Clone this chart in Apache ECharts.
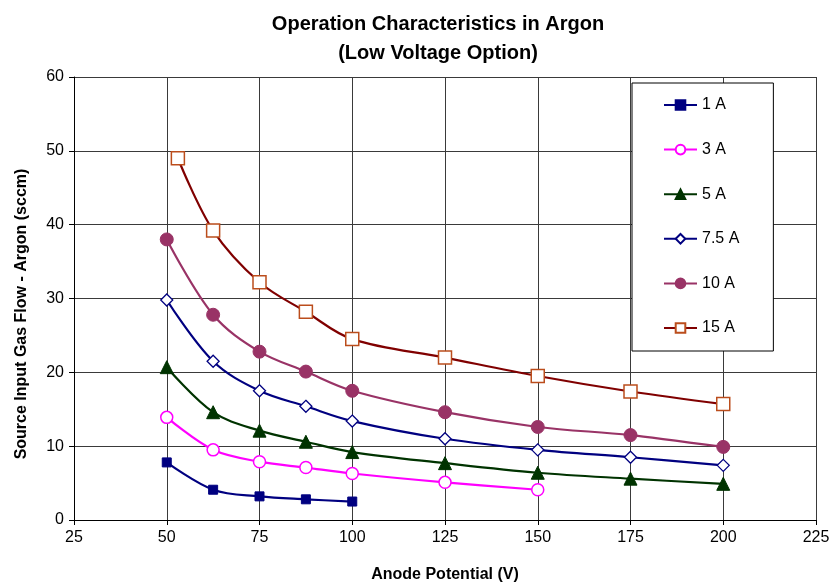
<!DOCTYPE html>
<html>
<head>
<meta charset="utf-8">
<script src="https://cdn.jsdelivr.net/npm/echarts@6/dist/echarts.min.js"></script>
<style>
  html, body { margin: 0; padding: 0; background: #fff; }
  #chart { width: 838px; height: 588px; }
</style>
</head>
<body>
<div id="chart"></div>
<script>
// Anode potential (V) for each current setting
const voltsLow = [50, 62.5, 75, 87.5, 100];
const volts3A = [50, 62.5, 75, 87.5, 100, 125, 150];
const voltsFull = [50, 62.5, 75, 87.5, 100, 125, 150, 175, 200];
const volts15A = [53, 62.5, 75, 87.5, 100, 125, 150, 175, 200];

// Source input gas flow, Argon (sccm)
const flow1A = [7.8, 4.1, 3.2, 2.8, 2.5];
const flow3A = [13.9, 9.5, 7.9, 7.1, 6.3, 5.1, 4.1];
const flow5A = [20.7, 14.6, 12.1, 10.6, 9.2, 7.7, 6.4, 5.6, 4.9];
const flow7p5A = [29.8, 21.5, 17.5, 15.4, 13.4, 11.0, 9.5, 8.5, 7.4];
const flow10A = [38.0, 27.8, 22.8, 20.1, 17.5, 14.6, 12.6, 11.5, 9.9];
const flow15A = [49.0, 39.2, 32.2, 28.2, 24.5, 22.0, 19.5, 17.4, 15.7];

const seriesNames = ['1 A', '3 A', '5 A', '7.5 A', '10 A', '15 A'];
const xTicks = [25, 50, 75, 100, 125, 150, 175, 200, 225];
const yTicks = [0, 10, 20, 30, 40, 50, 60];

const pair = (xs, ys) => xs.map((x, i) => [x, ys[i]]);

const FONT = '"Liberation Sans", Arial, sans-serif';

function curve(name, xs, ys, lineColor, symbol, size, fill, border, bw) {
  return {
    name: name,
    type: 'line',
    data: pair(xs, ys),
    smooth: 0.35,
    symbol: symbol,
    symbolSize: size,
    showAllSymbol: true,
    lineStyle: { color: lineColor, width: 2.2 },
    itemStyle: { color: fill, borderColor: border, borderWidth: bw, opacity: 1 },
    z: 3
  };
}

const chart = echarts.init(document.getElementById('chart'), null, { renderer: 'canvas' });

chart.setOption({
  animation: false,
  backgroundColor: '#fff',
  textStyle: { fontFamily: FONT },
  title: {
    text: 'Operation Characteristics in Argon\n(Low Voltage Option)',
    left: 433,
    top: 5,
    textAlign: 'center',
    textStyle: { fontFamily: FONT, fontSize: 20, fontWeight: 'bold', color: '#000', lineHeight: 29 }
  },
  grid: { left: 74, right: 22, top: 77, bottom: 65, containLabel: false },
  legend: {
    orient: 'vertical',
    left: 632,
    top: 83,
    itemWidth: 33,
    itemHeight: 12,
    itemGap: 28.6,
    padding: [14, 34, 15, 31],
    backgroundColor: '#fff',
    borderColor: '#000',
    borderWidth: 1,
    data: seriesNames,
    textStyle: { fontFamily: FONT, fontSize: 16, color: '#000' }
  },
  xAxis: {
    type: 'value',
    min: 25, max: 225, interval: 25,
    name: 'Anode Potential (V)',
    nameLocation: 'middle',
    nameGap: 47,
    nameTextStyle: { fontFamily: FONT, fontSize: 16, fontWeight: 'bold', color: '#000' },
    axisLine: { show: true, onZero: false, lineStyle: { color: '#000', width: 1 } },
    axisTick: { show: true, inside: false, length: 5, lineStyle: { color: '#000' } },
    axisLabel: { fontFamily: FONT, fontSize: 16, color: '#000', margin: 10,
      formatter: v => xTicks.includes(v) ? String(v) : '' },
    splitLine: { show: true, lineStyle: { color: '#3a3a3a', width: 1 } }
  },
  yAxis: {
    type: 'value',
    min: 0, max: 60, interval: 10,
    axisLine: { show: true, lineStyle: { color: '#000', width: 1 } },
    axisTick: { show: true, inside: false, length: 5, lineStyle: { color: '#000' } },
    axisLabel: { fontFamily: FONT, fontSize: 16, color: '#000', margin: 10,
      formatter: v => yTicks.includes(v) ? String(v) : '' },
    splitLine: { show: true, lineStyle: { color: '#3a3a3a', width: 1 } }
  },
  graphic: [{
    type: 'text',
    x: 22, y: 314,
    rotation: Math.PI / 2,
    style: {
      text: 'Source Input Gas Flow - Argon (sccm)',
      font: 'bold 16px ' + FONT,
      fill: '#000',
      align: 'center',
      verticalAlign: 'middle'
    }
  }],
  series: [
    curve('1 A', voltsLow, flow1A, '#000080', 'rect', 9, '#000080', '#000080', 1),
    curve('3 A', volts3A, flow3A, '#ff00ff', 'circle', 12, '#ffffff', '#ff00ff', 1.5),
    curve('5 A', voltsFull, flow5A, '#003300', 'triangle', 13, '#003300', '#003300', 1),
    curve('7.5 A', voltsFull, flow7p5A, '#000080', 'diamond', 12, '#ffffff', '#000080', 1.3),
    curve('10 A', voltsFull, flow10A, '#993366', 'circle', 13, '#993366', '#993366', 1),
    curve('15 A', volts15A, flow15A, '#800000', 'rect', 13, '#ffffff', '#bb4d1c', 1.5)
  ]
});
</script>
</body>
</html>
